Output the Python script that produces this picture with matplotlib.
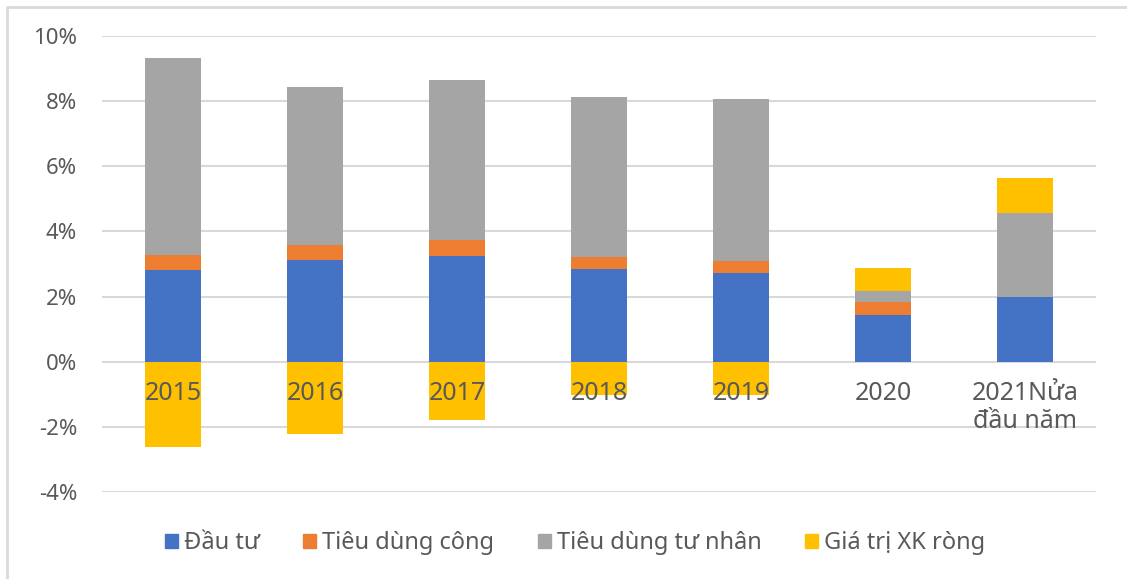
import numpy as np
import matplotlib.pyplot as plt
from matplotlib.patches import Patch
from matplotlib.lines import Line2D
from matplotlib.transforms import offset_copy

plt.rcParams['font.family'] = ['Noto Sans', 'DejaVu Sans']

categories = ['2015', '2016', '2017', '2018', '2019', '2020', '2021Nửa\nđầu năm']
dau_tu = [2.81, 3.12, 3.24, 2.84, 2.73, 1.43, 1.99]
tieu_dung_cong = [0.46, 0.47, 0.49, 0.37, 0.36, 0.40, 0.0]
tieu_dung_tu_nhan = [6.05, 4.84, 4.92, 4.92, 4.97, 0.35, 2.58]
gia_tri_xk = [-2.63, -2.21, -1.80, -1.03, -1.03, 0.70, 1.06]

series = [
    ('Đầu tư', dau_tu, '#4472C4'),
    ('Tiêu dùng công', tieu_dung_cong, '#ED7D31'),
    ('Tiêu dùng tư nhân', tieu_dung_tu_nhan, '#A5A5A5'),
    ('Giá trị XK ròng', gia_tri_xk, '#FFC000'),
]
text_color = '#595959'

fig = plt.figure(figsize=(11.27, 5.79), dpi=100)
ax = fig.add_axes([102 / 1127, 1 - 492 / 579, 994 / 1127, 456 / 579])

x = np.arange(len(categories))
pos_base = np.zeros(len(x))
neg_base = np.zeros(len(x))
for name, vals, color in series:
    v = np.array(vals)
    bottom = np.where(v >= 0, pos_base, neg_base)
    ax.bar(x, v, 0.4, bottom=bottom, color=color, label=name, zorder=2)
    pos_base += np.where(v >= 0, v, 0)
    neg_base += np.where(v < 0, v, 0)

ax.set_xlim(-0.5, len(x) - 0.5)
ax.set_ylim(-4, 10)
ax.set_yticks(np.arange(-4, 11, 2))
ax.set_yticklabels([f'{t}%' for t in range(-4, 11, 2)])
ax.yaxis.grid(True, color='#D9D9D9', linewidth=1.5, zorder=0)
ax.set_axisbelow(True)
ax.set_xticks([])
ax.tick_params(axis='y', length=0, pad=18, labelsize=16, labelcolor=text_color)
for s in ax.spines.values():
    s.set_visible(False)

# category labels sit just below the zero line, over the bars
tr = offset_copy(ax.transData, fig=fig, x=0, y=-19, units='dots')
for xi, cat in zip(x, categories):
    ax.text(xi, 0, cat, transform=tr, ha='center', va='top', fontsize=18,
            color=text_color, zorder=5, linespacing=1.15)

handles = [Patch(color=c, label=n) for n, _, c in series]
fig.legend(handles=handles, loc='center', bbox_to_anchor=(575 / 1127, 1 - 543 / 579),
           ncol=4, frameon=False, fontsize=17, handlelength=0.55, handleheight=0.55,
           handletextpad=0.25, columnspacing=1.85, labelcolor=text_color)

# light frame on the left and top edges
fig.add_artist(Line2D([7 / 1127, 7 / 1127, 1], [0, 1 - 7 / 579, 1 - 7 / 579],
                      transform=fig.transFigure, color='#D9D9D9', linewidth=2))

plt.savefig('out.png', dpi=100)
plt.close()
